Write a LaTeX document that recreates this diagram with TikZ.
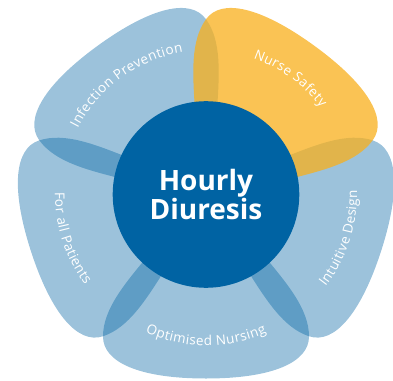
\documentclass[tikz,border=0pt]{standalone}
\usepackage{fontspec}
\setmainfont{Open Sans}
\usetikzlibrary{decorations.text}

\definecolor{hubblue}{RGB}{0,99,163}
\definecolor{safetyyellow}{RGB}{248,175,27}
\newcommand{\labelfont}{\fontsize{13.5}{13.5}\selectfont}

\begin{document}
\begin{tikzpicture}[x=1pt, y=1pt]
  \tikzset{
    petal/.pic={
      \path[pic actions] (0,0) -- (60,57) .. controls (90,82) and (115,103) .. (142,103)
        .. controls (168,103) and (184,66) .. (184,0)
        .. controls (184,-66) and (168,-103) .. (142,-103)
        .. controls (115,-103) and (90,-82) .. (60,-57) -- cycle;
    },
    blue petal/.style={fill=hubblue, fill opacity=0.39},
    yellow petal/.style={fill=safetyyellow, fill opacity=0.75},
    hub/.style={circle, fill=hubblue, minimum size=186.6pt, inner sep=0pt,
      text=white, align=center, font=\bfseries\fontsize{28}{27.6}\selectfont},
    petal label/.style={decorate, decoration={text effects along path, text={#1},
      text align=center, text effects/.cd, text along path,
      characters={text=white, font=\labelfont, inner xsep=0.2pt},
      character widths={font=\labelfont, inner xsep=0.2pt}}}
  }
  \useasboundingbox (-206,194.5) rectangle (187,-185.5);

  % petals
  \foreach \a in {126,198,270,342}
    \pic[blue petal, rotate=\a] {petal};
  \pic[yellow petal, rotate=54] {petal};

  \node[hub] (hub) at (0,0) {Hourly\\Diuresis};

  % labels round the hub
  \path[petal label=Infection Prevention] (171:144pt) arc[start angle=171, end angle=81, radius=144pt];
  \path[petal label=Nurse Safety] (99:144pt) arc[start angle=99, end angle=9, radius=144pt];
  \path[petal label=For all Patients] (153:151pt) arc[start angle=153, end angle=243, radius=151pt];
  \path[petal label=Optimised Nursing] (225:151pt) arc[start angle=225, end angle=315, radius=151pt];
  \path[petal label=Intuitive Design] (297:151pt) arc[start angle=297, end angle=387, radius=151pt];
\end{tikzpicture}
\end{document}
